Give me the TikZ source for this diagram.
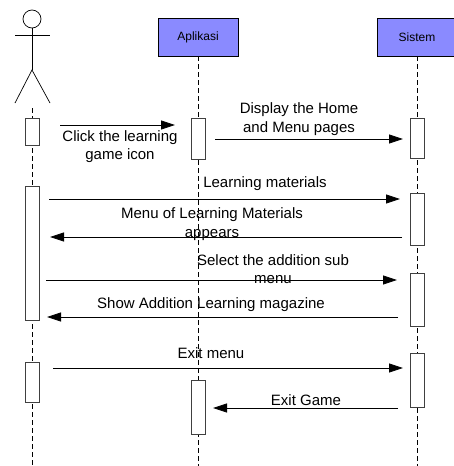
\documentclass[tikz,border=0pt]{standalone}
\usepackage{fontspec}
\setmainfont{Liberation Sans}
\usetikzlibrary{positioning}
\usetikzlibrary{arrows.meta}

\definecolor{headblue}{RGB}{138,138,255}

\begin{document}
\begin{tikzpicture}[x=1pt, y=-1pt,
    head/.style={draw, fill=headblue, minimum width=80pt, minimum height=38pt, font=\fontsize{12}{14}\selectfont},
    life/.style={dashed, dash pattern=on 5pt off 3pt, line width=0.7pt},
    act/.style={draw=black!75, fill=white, line width=0.7pt, minimum width=14pt, inner sep=0pt},
    msg/.style={-{Triangle[length=14pt,width=9pt]}, line width=0.8pt},
    lbl/.style={align=center, inner sep=0pt, font=\fontsize{15}{18.5}\selectfont}]
  \useasboundingbox (0,0) rectangle (453,466);

  \node[draw, circle, minimum size=18pt, inner sep=0pt, line width=0.7pt] (user) at (32,19) {};
  \coordinate (neck) at (32,70);
  \coordinate (armL) at (15,35);
  \coordinate (armR) at (50,35);
  \coordinate (legL) at (15,103);
  \coordinate (legR) at (50,103);
  \coordinate (userlife) at (32,108);
  \coordinate (userend) at (32,466);
  \draw[line width=0.7pt] (user) -- (neck);
  \draw[line width=0.7pt] (armL) -- (armR);
  \draw[line width=0.7pt] (legL) -- (neck) -- (legR);

  \node[head] (apl) at (198,37) {Aplikasi};
  \node[head] (sis) at (417,37) {Sistem};
  \coordinate (aplend) at (198,466);
  \coordinate (sisend) at (417,466);

  \draw[life] (userlife) -- (userend);
  \draw[life] (apl) -- (aplend);
  \draw[life] (sis) -- (sisend);

  \node[act, minimum height=27pt] (u1) at (32.5,131.5) {};
  \node[act, minimum height=134pt] (u2) at (32.5,253) {};
  \node[act, minimum height=40pt] (u3) at (32.5,382) {};
  \node[act, minimum height=41pt] (a1) at (198,138.5) {};
  \node[act, minimum height=54pt] (a2) at (198,407) {};
  \node[act, minimum height=40pt] (s1) at (417,138) {};
  \node[act, minimum height=52pt] (s2) at (417,219) {};
  \node[act, minimum height=53pt] (s3) at (417,299.5) {};
  \node[act, minimum height=54pt] (s4) at (417,380) {};

  \coordinate (m1a) at (60,125);  \coordinate (m1b) at (175,125);
  \coordinate (m2a) at (215,139); \coordinate (m2b) at (403,139);
  \coordinate (m3a) at (49,199);  \coordinate (m3b) at (400,199);
  \coordinate (m4a) at (402,237); \coordinate (m4b) at (50,237);
  \coordinate (m5a) at (46,280);  \coordinate (m5b) at (397,280);
  \coordinate (m6a) at (398,317); \coordinate (m6b) at (47,317);
  \coordinate (m7a) at (53,368);  \coordinate (m7b) at (403,368);
  \coordinate (m8a) at (398,408); \coordinate (m8b) at (213,408);

  \draw[msg] (m1a) -- (m1b);
  \draw[msg] (m2a) -- (m2b);
  \draw[msg] (m3a) -- (m3b);
  \draw[msg] (m4a) -- (m4b);
  \draw[msg] (m5a) -- (m5b);
  \draw[msg] (m6a) -- (m6b);
  \draw[msg] (m7a) -- (m7b);
  \draw[msg] (m8a) -- (m8b);

  \node[lbl] (click) at (120,146.5) {Click the learning\\game icon};
  \node[lbl] (display) at (299,119) {Display the Home\\and Menu pages};
  \node[lbl] (materials) at (265,184) {Learning materials};
  \node[lbl] (menu) at (212,224) {Menu of Learning Materials\\appears};
  \node[lbl] (select) at (273,269) {Select the addition sub\\menu};
  \node[lbl] (show) at (211,305) {Show Addition Learning magazine};
  \node[lbl] (exitmenu) at (211,353) {Exit menu};
  \node[lbl] (exitgame) at (306,400) {Exit Game};
\end{tikzpicture}
\end{document}
